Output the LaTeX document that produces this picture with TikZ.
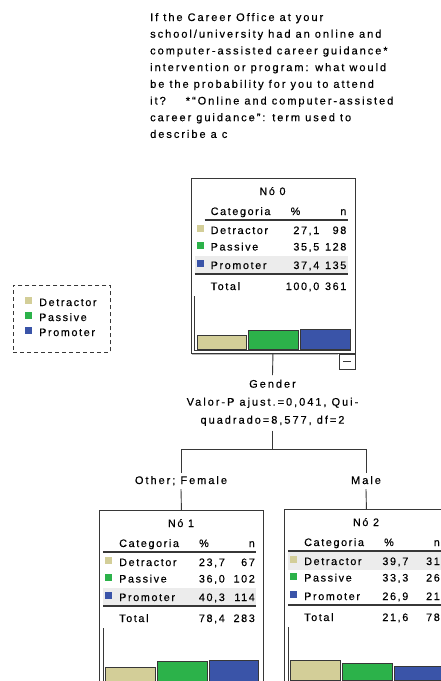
\documentclass[tikz,border=0pt]{standalone}
\usepackage{fontspec}
\newfontfamily\spssfont{Liberation Sans}[LetterSpace=15,FakeBold=0.35]
\newfontfamily\spsstitle{Liberation Sans}[LetterSpace=18,FakeBold=0.35]
\definecolor{tanc}{RGB}{211,206,152}
\definecolor{greenc}{RGB}{44,178,74}
\definecolor{bluec}{RGB}{58,84,168}
\definecolor{bandc}{RGB}{236,236,236}
\definecolor{linec}{RGB}{55,55,55}
\newcommand\pcol{126}
\newcommand\trow[6]{%
  \fill[#3] (6,#2-9) rectangle (13,#2-2);
  \node[txt,anchor=base west] (#1l) at (20,#2) {#4};
  \node[txt,anchor=base east] (#1p) at (\pcol,#2) {#5};
  \node[txt,anchor=base east] (#1n) at (156,#2) {#6};
}
\newcommand\thead[3]{%
  \node[txt,anchor=base] (#1t) at (82,17) {Nó #2};
  \node[txt,anchor=base west] (#1c) at (20,37) {Categoria};
  \node[txt,anchor=base] (#1pc) at (105,37) {\%};
  \node[txt,anchor=base east] (#1nh) at (156,37) {n};
  \draw[rulec] (#3,42) -- (157,42);
  \draw[rulec] (4,96) -- (157,96);
  \draw[axisc] (4,118) |- (160,172.5);
}
\newcommand\tbars[3]{%
  \filldraw[barc,fill=tanc] (6.5,171) rectangle (56,171-#1);
  \filldraw[barc,fill=greenc] (58,171) rectangle (108,171-#2);
  \filldraw[barc,fill=bluec] (110,171) rectangle (159.5,171-#3);
}
\begin{document}
\begin{tikzpicture}[x=1pt,y=-1pt,
  txt/.style={font=\spssfont\fontsize{10.8}{12}\selectfont,inner sep=0pt,text=black},
  ttl/.style={font=\spsstitle\fontsize{11}{12}\selectfont,inner sep=0pt,text=black},
  boxc/.style={draw=linec,line width=0.9pt,minimum width=164pt,minimum height=175pt,anchor=north west,inner sep=0pt},
  rulec/.style={draw=linec,line width=1.2pt},
  axisc/.style={draw=linec,line width=0.8pt},
  barc/.style={draw=linec,line width=0.9pt},
  conn/.style={draw=linec,line width=0.9pt},
  bandfill/.style={fill=bandc}]
\clip (0,0) rectangle (441,681);
\fill[white] (0,0) rectangle (441,681);

% title
\foreach \txt [count=\i] in {If the Career Office at your,
  school/university had an online and,
  computer-assisted career guidance*,
  intervention or program: what would,
  be the probability for you to attend,
  {it?\hspace{20pt}*“Online and computer-assisted},
  career guidance”: term used to,
  describe a c}{
  \node[ttl,anchor=base west] (t\i) at (150,{21+(\i-1)*16.7}) {\txt};
}

% legend
\node[draw=linec,line width=0.9pt,dash pattern=on 4pt off 3pt,minimum width=97pt,minimum height=67pt,anchor=north west,inner sep=0pt] (legend) at (13,285) {};
\fill[tanc] (25,297) rectangle (32,304);
\node[txt,anchor=base west] (lg1) at (39,306) {Detractor};
\fill[greenc] (25,312) rectangle (32,319);
\node[txt,anchor=base west] (lg2) at (39,321) {Passive};
\fill[bluec] (25,327) rectangle (32,334);
\node[txt,anchor=base west] (lg3) at (39,336) {Promoter};

% node 0
\begin{scope}[shift={(190.5,178)}]
  \renewcommand\pcol{129}
  \fill[bandfill] (4,78) rectangle (157,95.5);
  \node[boxc] (n0) at (0,0) {};
  \thead{n0}{0}{14}
  \trow{n0a}{56}{tanc}{Detractor}{27,1}{98}
  \trow{n0b}{72.5}{greenc}{Passive}{35,5}{128}
  \trow{n0c}{91}{bluec}{Promoter}{37,4}{135}
  \node[txt,anchor=base west] (n0tl) at (20,112) {Total};
  \node[txt,anchor=base east] (n0tp) at (\pcol,112) {100,0};
  \node[txt,anchor=base east] (n0tn) at (156,112) {361};
  \tbars{14}{19}{20}
  \draw[gray!55,line width=0.8pt] (1,176.6) -- (147,176.6);
\end{scope}
\node[draw=linec,line width=0.9pt,minimum width=16pt,minimum height=15pt,inner sep=0pt,anchor=north east] (n0m) at (n0.south east) {};
\draw[linec,line width=1pt] ([xshift=-4pt]n0m.center) -- ([xshift=4pt]n0m.center);

% split
\node[txt,align=center,anchor=north,inner xsep=0pt,inner ysep=4.5pt,font=\spsstitle\fontsize{11}{18}\selectfont] (split) at (272.5,375)
  {Gender\\Valor-P ajust.=0,041, Qui-\\quadrado=8,577, df=2};
\coordinate (j) at (272.5,449);
\node[ttl,anchor=base,inner ysep=3pt,text height=7.6pt,text depth=2pt] (lab1) at (181,484) {Other; Female};
\node[ttl,anchor=base,inner ysep=3pt,text height=7.6pt,text depth=2pt] (lab2) at (366,484) {Male};

% node 1
\begin{scope}[shift={(99,510)}]
  \fill[bandfill] (4,78) rectangle (157,95.5);
  \node[boxc] (n1) at (0,0) {};
  \thead{n1}{1}{4}
  \trow{n1a}{56}{tanc}{Detractor}{23,7}{67}
  \trow{n1b}{72.5}{greenc}{Passive}{36,0}{102}
  \trow{n1c}{91}{bluec}{Promoter}{40,3}{114}
  \node[txt,anchor=base west] (n1tl) at (20,112) {Total};
  \node[txt,anchor=base east] (n1tp) at (\pcol,112) {78,4};
  \node[txt,anchor=base east] (n1tn) at (156,112) {283};
  \tbars{14}{20}{21}
\end{scope}

% node 2
\begin{scope}[shift={(284,509)}]
  \renewcommand\pcol{124.5}
  \fill[bandfill] (4,43) rectangle (157,60.5);
  \node[boxc] (n2) at (0,0) {};
  \thead{n2}{2}{4}
  \trow{n2a}{56}{tanc}{Detractor}{39,7}{31}
  \trow{n2b}{72.5}{greenc}{Passive}{33,3}{26}
  \trow{n2c}{91}{bluec}{Promoter}{26,9}{21}
  \node[txt,anchor=base west] (n2tl) at (20,112) {Total};
  \node[txt,anchor=base east] (n2tp) at (\pcol,112) {21,6};
  \node[txt,anchor=base east] (n2tn) at (156,112) {78};
  \tbars{20}{17}{14}
\end{scope}

% connectors
\draw[conn] (n0.south) -- (split.north);
\draw[conn] (split.south) -- (j);
\draw[conn] (j) -| (lab1.north);
\draw[conn] (j) -| (lab2.north);
\draw[conn] (lab1.south) -- (n1.north);
\draw[conn] (lab2.south) -- (n2.north);
\end{tikzpicture}
\end{document}
